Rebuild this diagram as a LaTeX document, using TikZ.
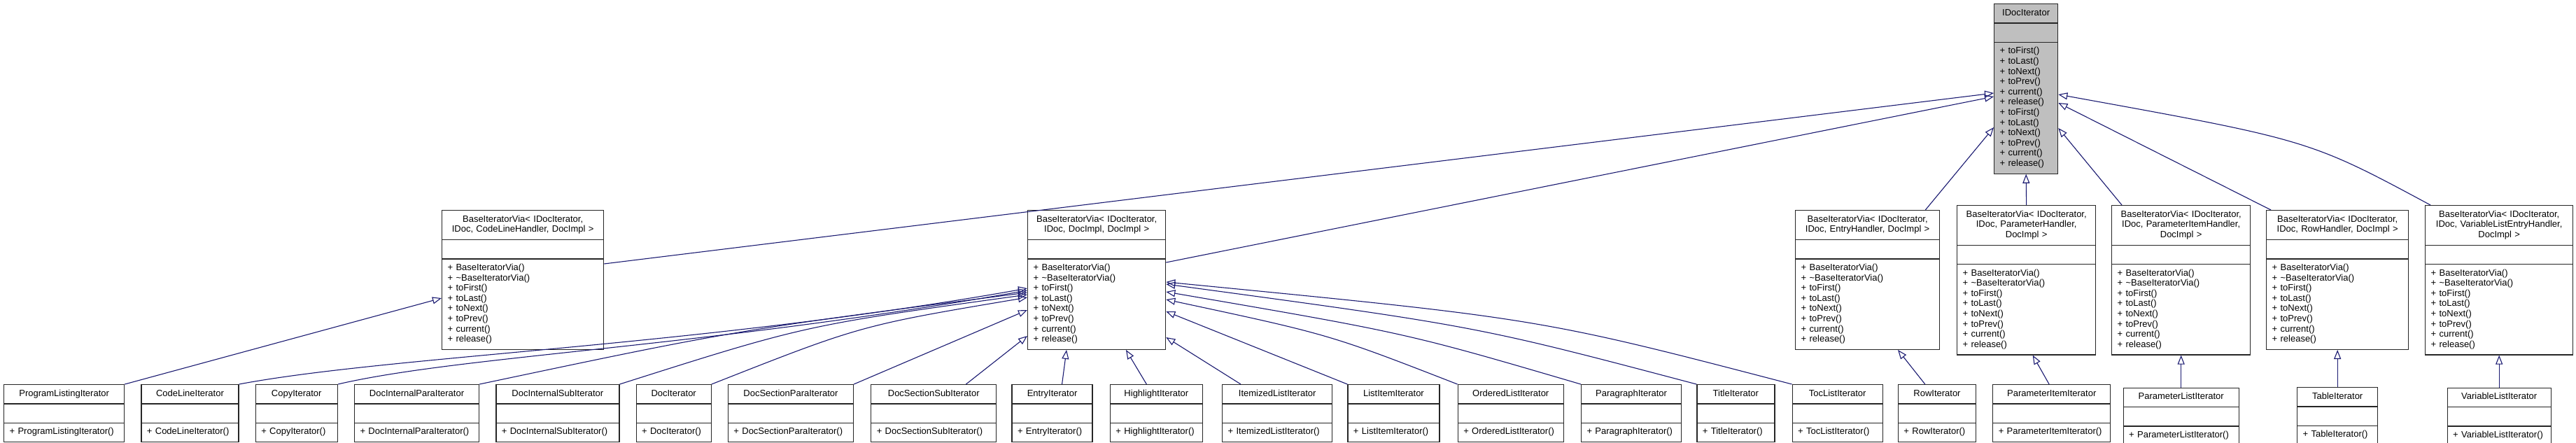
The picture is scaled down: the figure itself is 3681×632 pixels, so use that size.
\documentclass[tikz,border=0pt]{standalone}
\usepackage{fontspec}
\setmainfont{Liberation Sans}
\usetikzlibrary{arrows.meta,positioning,shapes.multipart}
\definecolor{edgeblue}{HTML}{191970}
\definecolor{ifacegray}{HTML}{BFBFBF}
\newcommand{\ctitle}[1]{\centering\strut#1\strut\par}
\newcommand{\viaops}{\strut+~BaseIteratorVia()\\+~\textasciitilde BaseIteratorVia()\\+~toFirst()\\+~toLast()\\+~toNext()\\+~toPrev()\\+~current()\\+~release()\strut}
\tikzset{
  cls/.style={draw=black!85, line width=1.3pt, fill=white, rectangle split, rectangle split parts=3,
    text width=#1-16pt, inner xsep=8pt, inner ysep=5.7pt, align=left,
    font=\fontsize{13}{14.6}\selectfont},
  inh/.style={-{Triangle[open, length=13pt, width=10pt]}, draw=edgeblue, line width=1.1pt},
}
\begin{document}
\begin{tikzpicture}[x=1pt, y=-1pt]
\useasboundingbox (0,0) rectangle (3681,632);
% interface
\node[cls=91pt, fill=ifacegray, anchor=north west] (idociter) at (2849,5) {\ctitle{IDocIterator}\nodepart{second}\strut\nodepart{third}\strut+~toFirst()\\+~toLast()\\+~toNext()\\+~toPrev()\\+~current()\\+~release()\\+~toFirst()\\+~toLast()\\+~toNext()\\+~toPrev()\\+~current()\\+~release()\strut};
% template instances
\node[cls=231pt, anchor=north west] (bvcode) at (631,300) {\ctitle{BaseIteratorVia< IDocIterator,\\IDoc, CodeLineHandler, DocImpl >}\nodepart{second}\strut\nodepart{third}\viaops};
\node[cls=197pt, anchor=north west] (bvdoc) at (1468,300) {\ctitle{BaseIteratorVia< IDocIterator,\\IDoc, DocImpl, DocImpl >}\nodepart{second}\strut\nodepart{third}\viaops};
\node[cls=206pt, anchor=north west] (bventry) at (2565,300) {\ctitle{BaseIteratorVia< IDocIterator,\\IDoc, EntryHandler, DocImpl >}\nodepart{second}\strut\nodepart{third}\viaops};
\node[cls=198pt, anchor=north west] (bvparam) at (2796,293) {\ctitle{BaseIteratorVia< IDocIterator,\\IDoc, ParameterHandler,\\DocImpl >}\nodepart{second}\strut\nodepart{third}\viaops};
\node[cls=198pt, anchor=north west] (bvpitem) at (3017,293) {\ctitle{BaseIteratorVia< IDocIterator,\\IDoc, ParameterItemHandler,\\DocImpl >}\nodepart{second}\strut\nodepart{third}\viaops};
\node[cls=203pt, anchor=north west] (bvrow) at (3238,300) {\ctitle{BaseIteratorVia< IDocIterator,\\IDoc, RowHandler, DocImpl >}\nodepart{second}\strut\nodepart{third}\viaops};
\node[cls=211pt, anchor=north west] (bvvar) at (3465,293) {\ctitle{BaseIteratorVia< IDocIterator,\\IDoc, VariableListEntryHandler,\\DocImpl >}\nodepart{second}\strut\nodepart{third}\viaops};
% concrete iterators
\node[cls=172pt, anchor=north west] (prgit) at (5,549) {\ctitle{ProgramListingIterator}\nodepart{second}\strut\nodepart{third}\strut+~ProgramListingIterator()\strut};
\node[cls=139pt, right=23pt of prgit] (cdlit) {\ctitle{CodeLineIterator}\nodepart{second}\strut\nodepart{third}\strut+~CodeLineIterator()\strut};
\node[cls=117pt, right=23pt of cdlit] (cpyit) {\ctitle{CopyIterator}\nodepart{second}\strut\nodepart{third}\strut+~CopyIterator()\strut};
\node[cls=178pt, right=23pt of cpyit] (dipit) {\ctitle{DocInternalParaIterator}\nodepart{second}\strut\nodepart{third}\strut+~DocInternalParaIterator()\strut};
\node[cls=176pt, right=23pt of dipit] (disit) {\ctitle{DocInternalSubIterator}\nodepart{second}\strut\nodepart{third}\strut+~DocInternalSubIterator()\strut};
\node[cls=107pt, right=23pt of disit] (docit) {\ctitle{DocIterator}\nodepart{second}\strut\nodepart{third}\strut+~DocIterator()\strut};
\node[cls=179pt, right=23pt of docit] (dspit) {\ctitle{DocSectionParaIterator}\nodepart{second}\strut\nodepart{third}\strut+~DocSectionParaIterator()\strut};
\node[cls=179pt, right=24pt of dspit] (dssit) {\ctitle{DocSectionSubIterator}\nodepart{second}\strut\nodepart{third}\strut+~DocSectionSubIterator()\strut};
\node[cls=115pt, right=21pt of dssit] (entit) {\ctitle{EntryIterator}\nodepart{second}\strut\nodepart{third}\strut+~EntryIterator()\strut};
\node[cls=132pt, right=24pt of entit] (hlit) {\ctitle{HighlightIterator}\nodepart{second}\strut\nodepart{third}\strut+~HighlightIterator()\strut};
\node[cls=157pt, right=27pt of hlit] (ilit) {\ctitle{ItemizedListIterator}\nodepart{second}\strut\nodepart{third}\strut+~ItemizedListIterator()\strut};
\node[cls=131pt, right=21pt of ilit] (liit) {\ctitle{ListItemIterator}\nodepart{second}\strut\nodepart{third}\strut+~ListItemIterator()\strut};
\node[cls=151pt, right=25pt of liit] (olit) {\ctitle{OrderedListIterator}\nodepart{second}\strut\nodepart{third}\strut+~OrderedListIterator()\strut};
\node[cls=143pt, right=24pt of olit] (parit) {\ctitle{ParagraphIterator}\nodepart{second}\strut\nodepart{third}\strut+~ParagraphIterator()\strut};
\node[cls=111pt, right=21pt of parit] (titit) {\ctitle{TitleIterator}\nodepart{second}\strut\nodepart{third}\strut+~TitleIterator()\strut};
\node[cls=129pt, right=24pt of titit] (tocit) {\ctitle{TocListIterator}\nodepart{second}\strut\nodepart{third}\strut+~TocListIterator()\strut};
\node[cls=111pt, right=21pt of tocit] (rowit) {\ctitle{RowIterator}\nodepart{second}\strut\nodepart{third}\strut+~RowIterator()\strut};
\node[cls=168pt, right=23pt of rowit] (pitit) {\ctitle{ParameterItemIterator}\nodepart{second}\strut\nodepart{third}\strut+~ParameterItemIterator()\strut};
\node[cls=165pt, below=46pt of bvpitem] (plit) {\ctitle{ParameterListIterator}\nodepart{second}\strut\nodepart{third}\strut+~ParameterListIterator()\strut};
\node[cls=115pt, below=53pt of bvrow] (tabit) {\ctitle{TableIterator}\nodepart{second}\strut\nodepart{third}\strut+~TableIterator()\strut};
\node[cls=148pt, below=46pt of bvvar] (vlit) {\ctitle{VariableListIterator}\nodepart{second}\strut\nodepart{third}\strut+~VariableListIterator()\strut};
% inheritance
\draw[inh] ([shift={(0,77)}]bvcode.north east) -- ([shift={(0,128)}]idociter.north west);
\draw[inh] ([shift={(0,75)}]bvdoc.north east) -- ([shift={(0,133)}]idociter.north west);
\draw[inh] ([shift={(-21,0)}]bventry.north east) -- ([shift={(0,177)}]idociter.north west);
\draw[inh] (bvparam.north) -- (idociter.south);
\draw[inh] ([shift={(15,0)}]bvpitem.north west) -- ([shift={(0,178)}]idociter.north east);
\draw[inh] ([shift={(7,0)}]bvrow.north west) -- ([shift={(0,142)}]idociter.north east);
\draw[inh] ([shift={(8,0)}]bvvar.north west) .. controls (3300,200) .. ([shift={(0,130)}]idociter.north east);
\draw[inh] (prgit.north east) -- ([shift={(0,126)}]bvcode.north west);
\draw[inh] (cdlit.north east) .. controls (560,508) and (1000,495) .. ([shift={(0,112)}]bvdoc.north west);
\draw[inh] (cpyit.north east) .. controls (660,508) and (1000,497) .. ([shift={(0,115)}]bvdoc.north west);
\draw[inh] (dipit.north east) .. controls (1050,472) .. ([shift={(0,118)}]bvdoc.north west);
\draw[inh] (disit.north east) .. controls (1150,465) .. ([shift={(0,121)}]bvdoc.north west);
\draw[inh] (docit.north east) .. controls (1230,465) .. ([shift={(0,125)}]bvdoc.north west);
\draw[inh] (dspit.north east) -- ([shift={(0,143)}]bvdoc.north west);
\draw[inh] ([shift={(-44,0)}]dssit.north east) -- ([shift={(0,180)}]bvdoc.north west);
\draw[inh] ([shift={(14,0)}]entit.north) -- ([shift={(56,0)}]bvdoc.south west);
\draw[inh] ([shift={(-14,0)}]hlit.north) -- ([shift={(141,0)}]bvdoc.south west);
\draw[inh] ([shift={(27,0)}]ilit.north west) -- ([shift={(0,182)}]bvdoc.north east);
\draw[inh] (liit.north west) -- ([shift={(0,145)}]bvdoc.north east);
\draw[inh] (olit.north west) .. controls (1900,478) .. ([shift={(0,128)}]bvdoc.north east);
\draw[inh] (parit.north west) .. controls (2010,476) .. ([shift={(0,117)}]bvdoc.north east);
\draw[inh] (titit.north west) .. controls (2110,466) .. ([shift={(0,106)}]bvdoc.north east);
\draw[inh] (tocit.north west) .. controls (2200,455) .. ([shift={(0,103)}]bvdoc.north east);
\draw[inh] ([shift={(39,0)}]rowit.north west) -- ([shift={(147,0)}]bventry.south west);
\draw[inh] ([shift={(81,0)}]pitit.north west) -- ([shift={(9,0)}]bvparam.south);
\draw[inh] (plit.north) -- (bvpitem.south);
\draw[inh] (tabit.north) -- (bvrow.south);
\draw[inh] (vlit.north) -- (bvvar.south);
\end{tikzpicture}
\end{document}
